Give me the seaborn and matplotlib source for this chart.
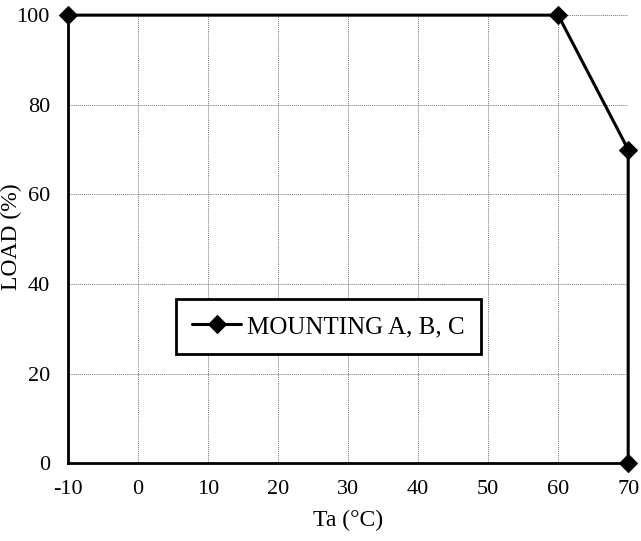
from matplotlib import pyplot as plt
import pandas as pd
import seaborn as sns

# derating curve
ta = [-10, 60, 70, 70]
load = [100, 100, 70, 0]
series = "MOUNTING A, B, C"

sns.set_style("white")
plt.rcParams['font.family'] = ['Liberation Serif', 'DejaVu Serif']
plt.rcParams['axes.unicode_minus'] = False
plt.rcParams['text.color'] = 'black'

df = pd.DataFrame({"Ta": ta, "LOAD": load, "series": series})

fig = plt.figure(figsize=(6.41, 5.41), dpi=100)
ax = fig.add_axes([0.106, 0.144, 0.874, 0.828])

sns.lineplot(data=df, x="Ta", y="LOAD", hue="series", palette=["black"],
             sort=False, estimator=None, marker="D", markersize=9,
             markeredgecolor="black", linewidth=2.2, ax=ax, clip_on=False,
             zorder=5)

ax.set_xlim(-10, 70)
ax.set_ylim(0, 100)
ax.set_xticks(range(-10, 71, 10))
ax.set_yticks(range(0, 101, 20))
ax.grid(True, color="#777777", linestyle=(0, (1, 1)), linewidth=0.7)

for s in ["top", "right"]:
    ax.spines[s].set_visible(False)
for s in ["left", "bottom"]:
    ax.spines[s].set_color("black")
    ax.spines[s].set_linewidth(2)
ax.tick_params(direction="in", length=5, width=1.5, colors="black",
               labelsize=16)
ax.tick_params(axis="x", pad=12)
ax.tick_params(axis="y", pad=13)

ax.set_xlabel("Ta (°C)", fontsize=17, labelpad=8, color="black")
ax.set_ylabel("LOAD (%)", fontsize=17, color="black")
ax.yaxis.set_label_coords(-0.082, 0.505)

leg = ax.legend(loc="center left", bbox_to_anchor=(0.193, 0.304),
                borderaxespad=0, frameon=True, fancybox=False, fontsize=18,
                handlelength=1.95, borderpad=0.65, handletextpad=0.25)
leg.get_frame().set_edgecolor("black")
leg.get_frame().set_linewidth(2)
leg.get_frame().set_alpha(1)
for t in leg.get_texts():
    t.set_color("black")

plt.savefig("out.png", dpi=100)
